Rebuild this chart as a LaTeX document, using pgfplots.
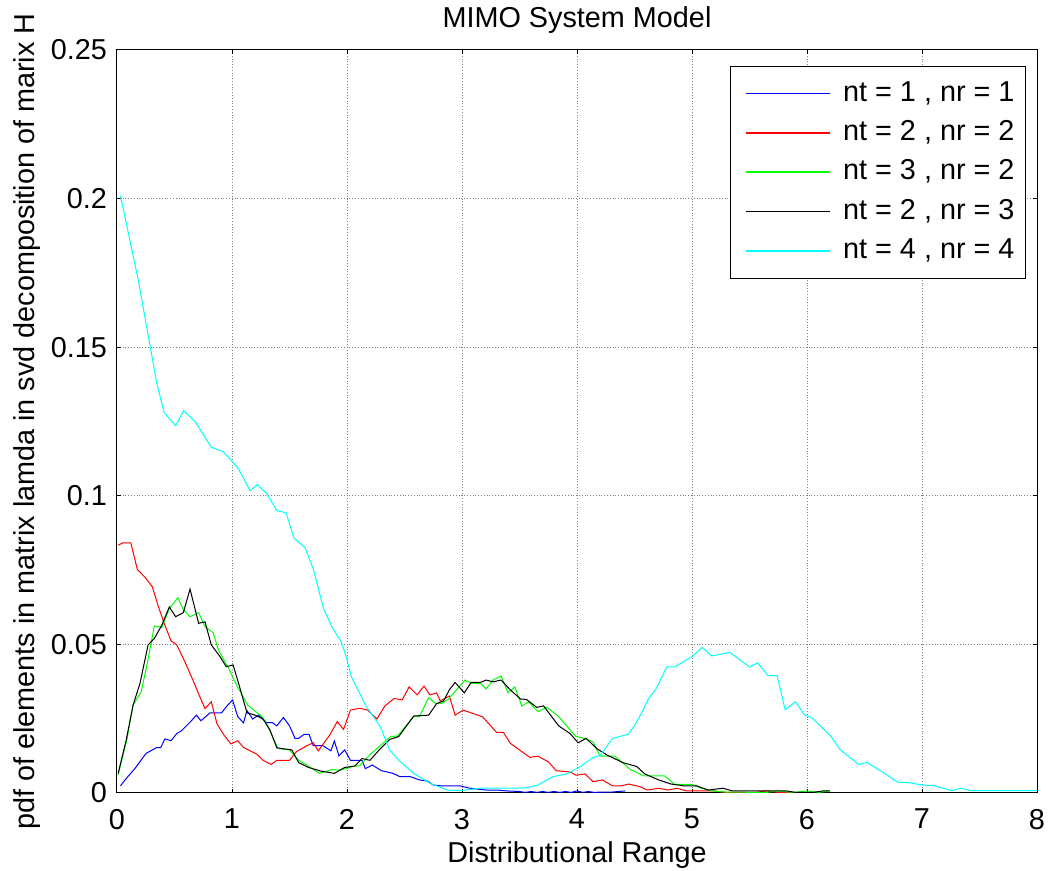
\documentclass[border=0pt]{standalone}
\usepackage{fontspec}
\setmainfont{Liberation Sans}
\usepackage{pgfplots}
\pgfplotsset{compat=1.18}
\definecolor{mgreen}{rgb}{0,1,0}
\definecolor{mcyan}{rgb}{0,1,1}
\definecolor{mblue}{rgb}{0,0,1}
\definecolor{mred}{rgb}{1,0,0}

\begin{document}
\fontsize{14.4}{17}\selectfont
\begin{tikzpicture}
\path[use as bounding box] (-58.5pt,-39pt) rectangle (466pt,396.5pt);
\begin{axis}[
scale only axis,
width=460pt,height=371.5pt,
at={(0,0)},anchor=south west,
xmin=0,xmax=8,ymin=0,ymax=0.25,
xtick={0,1,...,8},
ytick={0,0.05,0.1,0.15,0.2,0.25},
/pgf/number format/assume math mode=true,
yticklabel style={/pgf/number format/fixed,/pgf/number format/precision=2},
xticklabel style={yshift=-3pt},
tick align=inside,
major tick length=2pt,
tick style={black,line width=0.5pt},
axis line style={line width=0.5pt},
grid=major,
major grid style={densely dotted,black!50,line width=0.5pt},
title={MIMO System Model},
title style={at={(axis description cs:0.5,1.0404)},anchor=center,yshift=-6pt},
xlabel={Distributional Range},
xlabel style={at={(axis description cs:0.5,-0.0834)},anchor=center},
ylabel={pdf of elements in matrix lamda in svd decomposition of marix H},
ylabel style={at={(axis description cs:-0.098,0.5)},anchor=center},
every axis plot/.append style={line width=0.5pt},
legend cell align=left,
legend image code/.code={%
  \draw[#1,line width=0.8pt] (4pt,0.2pt) -- (46pt,0.2pt);
  \path[draw=none,fill=none] (0pt,-1pt) rectangle (51pt,1pt);},
legend style={at={(rel axis cs:0.988,0.9785)},anchor=north east,
  draw=black,line width=0.5pt,inner xsep=4pt,inner ysep=5.5pt,row sep=3.4pt,
  nodes={inner sep=1.5pt,text height=10.3pt,text depth=3pt}},
]
\addplot[draw=mblue] coordinates {
(0.03,0.0024)(0.07,0.0044)(0.157,0.0083)(0.252,0.0133)(0.345,0.0153)(0.38,0.0153)(0.417,0.0182)(0.47,0.0176)(0.52,0.020)(0.56,0.0209)(0.64,0.024)(0.69,0.0262)(0.73,0.0243)(0.81,0.027)(0.91,0.027)(0.95,0.029)(1.005,0.0313)(1.05,0.0257)(1.10,0.0236)(1.13,0.0277)(1.18,0.0249)(1.23,0.0262)(1.30,0.0237)(1.35,0.0237)(1.39,0.0226)(1.447,0.0254)(1.50,0.0226)(1.548,0.0184)(1.58,0.0184)(1.626,0.0197)(1.67,0.0197)(1.707,0.0159)(1.79,0.0159)(1.86,0.0142)(1.89,0.0175)(1.93,0.0125)(1.98,0.0145)(2.03,0.011)(2.13,0.011)(2.16,0.0082)(2.22,0.0094)(2.30,0.0075)(2.40,0.0066)(2.46,0.0055)(2.55,0.0055)(2.63,0.0044)(2.70,0.004)(2.75,0.0027)(2.82,0.0024)(2.98,0.0024)(3.07,0.0016)(3.21,0.001)(3.30,0.001)(3.39,0.0007)(3.50,0.0005)(3.55,0.0002)(3.60,0.0005)(3.65,0.0002)(3.70,0.0005)(3.75,0.0002)(3.80,0.0005)(3.85,0.0002)(3.90,0.0005)(3.95,0.0002)(4.0,0.0007)(4.05,0.0002)(4.10,0.0005)(4.15,0.0002)(4.20,0.0003)(4.30,0.0003)(4.42,0.0007)
};
\addplot[draw=mred] coordinates {
(0.01,0.0834)(0.055,0.0842)(0.12,0.0842)(0.177,0.0752)(0.243,0.0726)(0.307,0.0694)(0.36,0.0627)(0.41,0.0571)(0.47,0.0512)(0.52,0.0498)(0.59,0.0442)(0.66,0.038)(0.72,0.0324)(0.765,0.0284)(0.82,0.0307)(0.87,0.0232)(0.93,0.0195)(0.99,0.0165)(1.05,0.0176)(1.10,0.0153)(1.215,0.0131)(1.27,0.011)(1.34,0.0096)(1.39,0.011)(1.50,0.011)(1.56,0.0139)(1.65,0.0159)(1.707,0.0169)(1.75,0.0142)(1.85,0.0195)(1.915,0.024)(1.97,0.0214)(2.03,0.0279)(2.11,0.0285)(2.18,0.0279)(2.26,0.0249)(2.33,0.0293)(2.41,0.0318)(2.48,0.0313)(2.54,0.0357)(2.61,0.033)(2.67,0.036)(2.72,0.033)(2.78,0.0337)(2.81,0.031)(2.89,0.0326)(2.94,0.0262)(3.01,0.0279)(3.18,0.0256)(3.30,0.0204)(3.36,0.0204)(3.42,0.0167)(3.51,0.0142)(3.59,0.012)(3.66,0.0124)(3.75,0.0105)(3.82,0.0075)(3.94,0.0071)(3.99,0.006)(4.07,0.0064)(4.14,0.0038)(4.22,0.0044)(4.31,0.0024)(4.38,0.0024)(4.45,0.003)(4.55,0.0021)(4.61,0.001)(4.71,0.0016)(4.79,0.001)(4.87,0.0016)(4.95,0.0007)(5.19,0.0007)(5.30,0.0002)(5.55,0.0002)(5.65,0.0007)(5.75,0.0002)(6.0,0.0002)
};
\addplot[draw=mgreen] coordinates {
(0.01,0.006)(0.085,0.0178)(0.14,0.0296)(0.21,0.034)(0.263,0.0436)(0.325,0.0562)(0.39,0.0557)(0.455,0.0621)(0.53,0.0657)(0.577,0.0617)(0.635,0.0593)(0.71,0.0607)(0.765,0.056)(0.837,0.0539)(0.88,0.0483)(0.97,0.042)(1.04,0.0363)(1.136,0.0296)(1.26,0.0257)(1.30,0.0234)(1.36,0.0184)(1.40,0.015)(1.50,0.0145)(1.58,0.011)(1.665,0.009)(1.76,0.0066)(1.87,0.0079)(1.94,0.0077)(2.05,0.0089)(2.11,0.0092)(2.21,0.0133)(2.28,0.0156)(2.38,0.019)(2.44,0.0192)(2.58,0.0257)(2.63,0.0257)(2.71,0.0321)(2.77,0.0301)(2.82,0.0301)(2.88,0.0315)(3.026,0.038)(3.08,0.0369)(3.16,0.0369)(3.21,0.035)(3.27,0.038)(3.34,0.0394)(3.40,0.0337)(3.46,0.0357)(3.52,0.0293)(3.58,0.0307)(3.66,0.0274)(3.74,0.0288)(3.84,0.0257)(3.99,0.019)(4.06,0.0184)(4.14,0.0172)(4.2,0.0124)(4.33,0.0124)(4.46,0.008)(4.58,0.0058)(4.76,0.0058)(4.85,0.0029)(5.0,0.0029)(5.08,0.0016)(5.17,0.0007)(5.30,0.0003)(5.65,0.0002)(5.73,0.0007)(5.88,0.0002)(6.0,0.0007)(6.1,0.0002)(6.2,0.0007)
};
\addplot[draw=black] coordinates {
(0.01,0.0066)(0.08,0.0178)(0.14,0.0296)(0.2,0.0369)(0.27,0.0498)(0.325,0.052)(0.39,0.0565)(0.455,0.0626)(0.51,0.0593)(0.577,0.0607)(0.635,0.0686)(0.71,0.0571)(0.765,0.0576)(0.82,0.0498)(0.896,0.0459)(0.95,0.0425)(1.01,0.0431)(1.07,0.0352)(1.13,0.027)(1.2,0.0262)(1.27,0.0249)(1.33,0.0212)(1.39,0.0152)(1.52,0.0145)(1.58,0.0102)(1.665,0.0086)(1.77,0.0074)(1.89,0.0066)(1.98,0.0086)(2.07,0.0091)(2.13,0.0116)(2.2,0.011)(2.28,0.0145)(2.37,0.018)(2.45,0.019)(2.58,0.0259)(2.71,0.0262)(2.78,0.0301)(2.84,0.031)(2.89,0.0347)(2.94,0.0372)(3.02,0.0337)(3.08,0.0372)(3.16,0.0372)(3.21,0.038)(3.27,0.0374)(3.34,0.038)(3.42,0.0347)(3.51,0.0316)(3.56,0.0315)(3.65,0.0288)(3.71,0.0293)(3.84,0.0226)(3.94,0.02)(4.01,0.0169)(4.08,0.0184)(4.17,0.015)(4.26,0.0128)(4.4,0.0102)(4.52,0.0089)(4.59,0.0064)(4.71,0.0044)(4.82,0.003)(4.93,0.0024)(5.04,0.0024)(5.14,0.001)(5.27,0.0016)(5.35,0.0007)(5.82,0.0007)(5.9,0.0002)(6.05,0.0002)(6.14,0.0007)(6.2,0.0007)
};
\addplot[draw=mcyan] coordinates {
(0.03,0.201)(0.185,0.1726)(0.345,0.138)(0.41,0.128)(0.51,0.1236)(0.58,0.1286)(0.68,0.125)(0.82,0.1163)(0.925,0.1148)(1.055,0.1092)(1.157,0.1017)(1.22,0.1038)(1.30,0.1008)(1.39,0.095)(1.47,0.0943)(1.54,0.0857)(1.635,0.0826)(1.71,0.075)(1.795,0.0621)(1.876,0.0554)(1.945,0.0512)(1.98,0.0475)(2.04,0.039)(2.16,0.0296)(2.29,0.0223)(2.37,0.0145)(2.45,0.011)(2.58,0.0066)(2.72,0.0033)(2.87,0.001)(2.98,0.0008)(3.16,0.0016)(3.39,0.0016)(3.53,0.0016)(3.65,0.0025)(3.79,0.0055)(3.91,0.0064)(4.03,0.0089)(4.14,0.012)(4.20,0.0126)(4.31,0.0184)(4.45,0.0198)(4.53,0.0246)(4.62,0.0316)(4.69,0.0352)(4.78,0.0424)(4.85,0.0424)(5.0,0.0459)(5.09,0.049)(5.17,0.0461)(5.33,0.0473)(5.50,0.0424)(5.57,0.0438)(5.66,0.0395)(5.74,0.0395)(5.81,0.028)(5.90,0.0307)(5.98,0.0262)(6.04,0.0254)(6.21,0.019)(6.29,0.0145)(6.45,0.0096)(6.52,0.0103)(6.63,0.0077)(6.79,0.0036)(6.88,0.0035)(7.0,0.0027)(7.10,0.0025)(7.26,0.0008)(7.34,0.0016)(7.42,0.0008)(8.0,0.0008)
};
\legend{{nt = 1 , nr = 1},{nt = 2 , nr = 2},{nt = 3 , nr = 2},{nt = 2 , nr = 3},{nt = 4 , nr = 4}}
\end{axis}
\end{tikzpicture}
\end{document}
